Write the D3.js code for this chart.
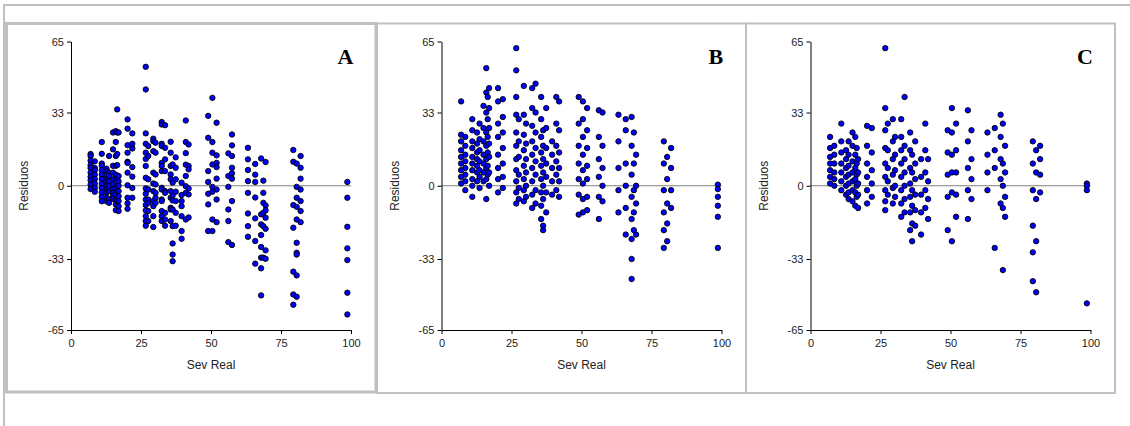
<!DOCTYPE html>
<html lang="es">
<head>
<meta charset="UTF-8">
<title>Residuos vs Sev Real</title>
<script src="https://cdn.jsdelivr.net/npm/d3@7"></script>
<style>
  body { margin: 0; background: #fff; }
  svg { display: block; }
</style>
</head>
<body>
<script>
// Datos: [Sev Real, Residuo]
var puntosA = [
  [7,14.3],[7,13.4],[7,11.3],[7,9.3],[7,8],[7,5.9],[7,4],[7,2.5],[7,0.5],[7,-1.5],
  [8.5,11],[8.5,8],[8.5,7],[8.5,5],[8.5,3],[8.5,1],[8.5,-1],[8.5,-2.7],
  [11,19.7],[11,14.4],[11,10],[11,9],[11,7],[11,5],[11,3],[11,1],[11,-1],[11,-3],[11,-5],[11,-7],
  [12.7,7.7],[12.7,6.5],[12.7,5],[12.7,2.9],[12.7,2],[12.7,0],[12.7,-2],[12.7,-3],[12.7,-5.4],[12.7,-7],
  [13.6,13.4],[13.6,5.9],[13.6,4.4],[13.6,2],[13.6,0],[13.6,-2.5],[13.6,-6],[13.6,-7.7],
  [15,24],[15,16.4],[15,9],[15,5.9],[15,2.9],[15,0.6],[15,-1.7],[15,-3.2],[15,-4.7],[15,-5.9],
  [16,24.6],[16,19.7],[16,13.4],[16,9],[16,5],[16,2.9],[16,-1],[16,-4],[16,-6.2],[16,-8.4],[16,-11],
  [16.5,34.4],[16.5,24],[16.5,14.3],[16.5,9.3],[16.5,3.6],[16.5,0],[16.5,-2.4],[16.5,-5.4],[16.5,-6.9],
  [17,24],[17,4.4],[17,2],[17,0],[17,-2.4],[17,-4.7],[17,-6.9],[17,-9.2],[17,-11.4],
  [20.2,29.9],[20.2,25.7],[20.2,18.3],[20.2,14.9],[20.2,10.8],[20.2,10.3],[20.2,5.9],[20.2,0.2],[20.2,-5.4],[20.2,-7.9],[20.2,-10.4],
  [21.9,23.6],[21.9,18.9],[21.9,16.8],[21.9,8.4],[21.9,4.1],[21.9,-1],[21.9,-5.4],
  [26.7,53.6],[26.7,43.4],[26.7,23.6],[26.7,18.9],[26.7,14.9],[26.7,12.1],[26.7,8.9],[26.7,3.6],[26.7,-1.2],[26.7,-3.6],[26.7,-6.2],[26.7,-8.7],[26.7,-11.1],[26.7,-13.7],[26.7,-15.9],[26.7,-18],
  [27.6,17.9],[27.6,13.4],[27.6,2.9],[27.6,-1.7],[27.6,-6.2],[27.6,-7.7],[27.6,-11.4],[27.6,-15.9],
  [29.4,21.2],[29.4,20.1],[29.4,15.6],[29.4,5.9],[29.4,1],[29.4,-2.4],[29.4,-6.9],[29.4,-9.2],[29.4,-13.7],[29.4,-18.6],
  [30.2,19.4],[30.2,14.9],[30.2,5.1],[30.2,0.6],[30.2,-3.2],[30.2,-5.4],[30.2,-7.7],
  [32.4,28.7],[32.4,27.6],[32.4,18.9],[32.4,17.9],[32.4,10.3],[32.4,8.9],[32.4,6.6],[32.4,-0.9],[32.4,-1.7],[32.4,-6.2],[32.4,-6.9],[32.4,-11.4],[32.4,-13.7],[32.4,-15.9],
  [33.6,27.3],[33.6,17.1],[33.6,11.9],[33.6,6.6],[33.6,-2.4],[33.6,-3.2],[33.6,-12.2],[33.6,-15.2],[33.6,-18],
  [35.6,19.8],[35.6,14.9],[35.6,8.9],[35.6,5.1],[35.6,2.9],[35.6,-2.4],[35.6,-5.4],[35.6,-9.9],[35.6,-10.7],[35.6,-15.9],
  [36.3,9.6],[36.3,1.4],[36.3,-4.4],[36.3,-6.6],[36.3,-10.7],[36.3,-18.2],[36.3,-26],[36.3,-31],[36.3,-34],
  [37.4,12.8],[37.4,8.1],[37.4,2.9],[37.4,-2.7],[37.4,-6.9],[37.4,-12.2],[37.4,-18],
  [39.5,1.4],[39.5,-4.2],[39.5,-6.9],[39.5,-9.2],[39.5,-13.7],[39.5,-20.4],[39.5,-23.9],
  [41,29.4],[41,19.7],[41,14.7],[41,9.5],[41,4.4],[41,-0.2],[41,-3.2],[41,-15.2],
  [42,18.6],[42,8.9],[42,7.4],[42,-1.2],[42,-3.9],[42,-14.3],
  [49,31.5],[49,21.6],[49,6.6],[49,1.7],[49,-3.6],[49,-8.4],[49,-20.4],
  [50.5,39.6],[50.5,19.7],[50.5,14.9],[50.5,9.6],[50.5,-0.5],[50.5,-2.7],[50.5,-15.2],[50.5,-20.4],
  [52,28.4],[52,13.7],[52,10.3],[52,8.4],[52,3.2],[52,-1.7],[52,-6.2],[52,-16.4],
  [56.2,14.6],[56.2,4.4],[56.2,-0.5],[56.2,-10.7],[56.2,-15.9],[56.2,-25.4],
  [57.5,23.1],[57.5,18.2],[57.5,13.4],[57.5,8.1],[57.5,5.6],[57.5,3.2],[57.5,-6.9],[57.5,-26.7],
  [63.2,17.1],[63.2,11.9],[63.2,7.1],[63.2,2.1],[63.2,-3.2],[63.2,-12.5],[63.2,-18.2],[63.2,-23],
  [65.8,9.8],[65.8,5],[65.8,1.7],[65.8,-5.3],[65.8,-14.7],[65.8,-24.9],[65.8,-35.1],
  [67.9,12.3],[67.9,-12.9],[67.9,-17.4],[67.9,-22.2],[67.9,-27.6],[67.9,-32.4],[67.9,-37.2],[67.9,-49.4],
  [68.7,2.3],[68.7,-3.2],[68.7,-7.7],[68.7,-12.2],[68.7,-18.2],[68.7,-32.4],
  [69.5,10.7],[69.5,-8.9],[69.5,-11.1],[69.5,-14.4],[69.5,-19.4],[69.5,-29.1],[69.5,-32.9],
  [79.4,16.1],[79.4,10.8],[79.4,-8.7],[79.4,-18.9],[79.4,-38.7],[79.4,-49],[79.4,-53.6],
  [80.6,10],[80.6,-0.5],[80.6,-5.4],[80.6,-9.5],[80.6,-15.2],[80.6,-25.7],[80.6,-30.2],[80.6,-31],[80.6,-40.4],[80.6,-50],
  [82,13.4],[82,8.1],[82,3.2],[82,-1.7],[82,-6.9],[82,-11.4],[82,-16.4],
  [98.7,1.7],[98.7,-5.4],[98.7,-18.5],[98.7,-28.2],[98.7,-33.5],[98.7,-48.2],[98.7,-58]
];

var puntosB = [
  [7,38],[7,23],[7,20],[7,16],[7,13],[7,10],[7,7],[7,4],[7,1],
  [8.5,22],[8.5,18],[8.5,14],[8.5,11],[8.5,8],[8.5,5],[8.5,2],[8.5,-2],
  [11,30],[11,25],[11,20],[11,17],[11,13],[11,10],[11,7],[11,3],[11,0],[11,-5],
  [12.7,24],[12.7,19],[12.7,15],[12.7,12],[12.7,9],[12.7,6],[12.7,2],
  [13.6,28],[13.6,21],[13.6,16],[13.6,11],[13.6,7],[13.6,4],[13.6,-1],
  [15,36],[15,26],[15,20],[15,14],[15,10],[15,6],[15,2],
  [16,53],[16,42],[16,33],[16,24],[16,18],[16,12],[16,8],[16,3],[16,-6],
  [16.5,40],[16.5,30],[16.5,22],[16.5,15],[16.5,9],[16.5,5],
  [17,44],[17,35],[17,26],[17,19],[17,13],[17,6],[17,0],
  [20.2,44],[20.2,38],[20.2,28],[20.2,22],[20.2,14],[20.2,8],[20.2,3],[20.2,-3],
  [21.9,39],[21.9,31],[21.9,24],[21.9,17],[21.9,10],[21.9,4],[21.9,-1],
  [26.7,62],[26.7,52],[26.7,40],[26.7,32],[26.7,24],[26.7,18],[26.7,12],[26.7,7],[26.7,2],[26.7,-3],[26.7,-8],
  [27.6,30],[27.6,20],[27.6,13],[27.6,5],[27.6,-1],[27.6,-6],
  [29.4,45],[29.4,32],[29.4,23],[29.4,16],[29.4,9],[29.4,3],[29.4,-2],[29.4,-7],
  [30.2,28],[30.2,19],[30.2,12],[30.2,6],[30.2,0],[30.2,-5],
  [32.4,44],[32.4,35],[32.4,27],[32.4,20],[32.4,14],[32.4,8],[32.4,2],[32.4,-4],[32.4,-10],
  [33.6,46],[33.6,33],[33.6,24],[33.6,17],[33.6,11],[33.6,5],[33.6,-2],[33.6,-8],
  [35.6,40],[35.6,30],[35.6,22],[35.6,15],[35.6,9],[35.6,3],[35.6,-3],[35.6,-9],[35.6,-15],
  [36.3,25],[36.3,18],[36.3,12],[36.3,6],[36.3,0],[36.3,-6],[36.3,-18],[36.3,-20],
  [37.4,35],[37.4,26],[37.4,17],[37.4,10],[37.4,4],[37.4,-3],[37.4,-12],
  [39.5,20],[39.5,14],[39.5,8],[39.5,2],[39.5,-4],
  [41,40],[41,28],[41,18],[41,11],[41,5],[41,-2],
  [42,38],[42,25],[42,15],[42,8],[42,2],[42,-5],
  [49,40],[49,28],[49,18],[49,10],[49,3],[49,-4],[49,-13],
  [50.5,38],[50.5,30],[50.5,22],[50.5,14],[50.5,7],[50.5,1],[50.5,-6],[50.5,-12],
  [52,35],[52,25],[52,17],[52,9],[52,3],[52,-5],[52,-11],
  [56.2,34],[56.2,22],[56.2,12],[56.2,4],[56.2,-5],[56.2,-15],
  [57.5,33],[57.5,18],[57.5,8],[57.5,0],[57.5,-7],
  [63.2,32],[63.2,20],[63.2,8],[63.2,-2],[63.2,-12],
  [65.8,30],[65.8,25],[65.8,10],[65.8,0],[65.8,-10],[65.8,-22],
  [67.9,31],[67.9,18],[67.9,5],[67.9,-5],[67.9,-15],[67.9,-24],[67.9,-33],[67.9,-42],
  [68.7,24],[68.7,10],[68.7,-2],[68.7,-12],[68.7,-20],
  [69.5,14],[69.5,0],[69.5,-8],[69.5,-22],
  [79.4,20],[79.4,10],[79.4,-2],[79.4,-12],[79.4,-20],[79.4,-28],
  [80.6,13],[80.6,3],[80.6,-8],[80.6,-17],[80.6,-25],
  [82,17],[82,8],[82,-2],[82,-10],
  [98.7,0.5],[98.7,-1.5],[98.7,-5],[98.7,-9],[98.7,-14],[98.7,-28]
];

var puntosC = [
  [7,22],[7,17],[7,13],[7,10],[7,7],[7,4],[7,1],
  [8.5,18],[8.5,14],[8.5,10],[8.5,6],[8.5,3],[8.5,0],
  [11,28],[11,20],[11,15],[11,10],[11,6],[11,2],[11,-2],
  [12.7,16],[12.7,12],[12.7,8],[12.7,4],[12.7,0],[12.7,-4],
  [13.6,20],[13.6,14],[13.6,9],[13.6,5],[13.6,1],[13.6,-3],[13.6,-6],
  [15,24],[15,18],[15,11],[15,6],[15,2],[15,-2],[15,-7],
  [16,22],[16,14],[16,8],[16,3],[16,-3],[16,-9],
  [16.5,17],[16.5,10],[16.5,5],[16.5,0],[16.5,-5],
  [17,12],[17,6],[17,1],[17,-4],[17,-10],
  [20.2,27],[20.2,18],[20.2,10],[20.2,4],[20.2,-2],[20.2,-8],
  [21.9,26],[21.9,15],[21.9,7],[21.9,1],[21.9,-5],
  [26.7,62],[26.7,35],[26.7,25],[26.7,17],[26.7,10],[26.7,4],[26.7,-2],[26.7,-7],[26.7,-11],
  [27.6,28],[27.6,16],[27.6,8],[27.6,2],[27.6,-4],
  [29.4,30],[29.4,20],[29.4,12],[29.4,5],[29.4,-1],[29.4,-8],
  [30.2,22],[30.2,14],[30.2,7],[30.2,0],[30.2,-5],
  [32.4,30],[32.4,22],[32.4,16],[32.4,10],[32.4,4],[32.4,-2],[32.4,-8],[32.4,-14],
  [33.6,40],[33.6,18],[33.6,12],[33.6,6],[33.6,0],[33.6,-6],[33.6,-12],
  [35.6,24],[35.6,16],[35.6,8],[35.6,1],[35.6,-5],[35.6,-12],[35.6,-20],
  [36.3,14],[36.3,6],[36.3,-2],[36.3,-9],[36.3,-17],[36.3,-25],
  [37.4,20],[37.4,10],[37.4,3],[37.4,-4],[37.4,-11],[37.4,-18],
  [39.5,12],[39.5,4],[39.5,-4],[39.5,-12],[39.5,-22],
  [41,28],[41,16],[41,6],[41,-2],[41,-10],
  [42,12],[42,2],[42,-6],[42,-15],
  [49,25],[49,15],[49,5],[49,-5],[49,-20],
  [50.5,35],[50.5,24],[50.5,14],[50.5,6],[50.5,-3],[50.5,-25],
  [52,28],[52,16],[52,6],[52,-4],[52,-14],
  [56.2,34],[56.2,20],[56.2,8],[56.2,-2],[56.2,-15],
  [57.5,25],[57.5,12],[57.5,3],[57.5,-6],
  [63.2,24],[63.2,14],[63.2,6],[63.2,-2],
  [65.8,26],[65.8,16],[65.8,8],[65.8,-28],
  [67.9,32],[67.9,22],[67.9,12],[67.9,3],[67.9,-8],
  [68.7,28],[68.7,10],[68.7,0],[68.7,-10],[68.7,-38],
  [69.5,18],[69.5,6],[69.5,-5],[69.5,-14],
  [79.4,20],[79.4,10],[79.4,-2],[79.4,-18],[79.4,-30],[79.4,-43],
  [80.6,16],[80.6,6],[80.6,-6],[80.6,-25],[80.6,-48],
  [82,18],[82,12],[82,5],[82,-3],
  [98.7,1],[98.7,0],[98.7,-2],[98.7,-53]
];

var paneles = [
  { letra: "A", puntos: puntosA },
  { letra: "B", puntos: puntosB },
  { letra: "C", puntos: puntosC }
];
var ticksX = [0, 25, 50, 75, 100];
var ticksY = [65, 33, 0, -33, -65];

var ancho = 1130, alto = 426;
var gris = "#c0c0c0";

var svg = d3.select("body").append("svg")
  .attr("width", ancho)
  .attr("height", alto);

// marco exterior
svg.append("line").attr("x1", 3).attr("x2", ancho).attr("y1", 5).attr("y2", 5)
  .attr("stroke", gris).attr("stroke-width", 2);
svg.append("line").attr("x1", 4).attr("x2", 4).attr("y1", 4).attr("y2", alto)
  .attr("stroke", gris).attr("stroke-width", 2);

// cajas de cada panel: [x, y, w, h, grosor]
var cajas = [
  [6.5, 23.5, 369.5, 368.5, 3],
  [377, 23.5, 369, 369.5, 2],
  [746, 23.5, 369, 369.5, 2]
];

// etiquetas con guion normal en los negativos
var formato = function(d) { return String(d); };

paneles.forEach(function(p, i) {
  var c = cajas[i];
  svg.append("rect")
    .attr("x", c[0]).attr("y", c[1]).attr("width", c[2]).attr("height", c[3])
    .attr("fill", "none").attr("stroke", gris).attr("stroke-width", c[4]);

  var x0 = c[0] + 64.5;
  var g = svg.append("g").attr("transform", "translate(" + x0 + ",0)");

  var escalaX = d3.scaleLinear().domain([0, 100]).range([0, 280]);
  var escalaY = d3.scaleLinear().domain([-65, 65]).range([330, 41.5]);

  // línea de cero
  g.append("line")
    .attr("x1", escalaX(0)).attr("x2", escalaX(100))
    .attr("y1", escalaY(0)).attr("y2", escalaY(0))
    .attr("stroke", "#808080").attr("stroke-width", 1);

  var ejeX = d3.axisBottom(escalaX).tickValues(ticksX).tickFormat(formato).tickSize(4).tickSizeOuter(0);
  var ejeY = d3.axisLeft(escalaY).tickValues(ticksY).tickFormat(formato).tickSize(4).tickSizeOuter(0);

  var gx = g.append("g").attr("transform", "translate(0," + escalaY(-65) + ")").call(ejeX);
  var gy = g.append("g").call(ejeY);
  [gx, gy].forEach(function(e) {
    e.selectAll("text").attr("font-family", "Liberation Sans, Arial, sans-serif")
      .attr("font-size", 11).attr("fill", "#222");
    e.select(".domain").attr("stroke", "#000");
    e.selectAll(".tick line").attr("stroke", "#000");
  });
  gx.selectAll("text").attr("dy", "0.9em");

  g.append("text")
    .attr("x", escalaX(50)).attr("y", 369)
    .attr("text-anchor", "middle")
    .attr("font-family", "Liberation Sans, Arial, sans-serif")
    .attr("font-size", 12).attr("fill", "#222")
    .text("Sev Real");

  g.append("text")
    .attr("transform", "translate(-43," + escalaY(0) + ") rotate(-90)")
    .attr("text-anchor", "middle")
    .attr("font-family", "Liberation Sans, Arial, sans-serif")
    .attr("font-size", 12).attr("fill", "#222")
    .text("Residuos");

  g.append("text")
    .attr("x", escalaX(98)).attr("y", 64)
    .attr("text-anchor", "middle")
    .attr("font-family", "Liberation Serif, Times New Roman, serif")
    .attr("font-weight", "bold")
    .attr("font-size", 22).attr("fill", "#000")
    .text(p.letra);

  g.selectAll("circle")
    .data(p.puntos)
    .enter()
    .append("circle")
    .attr("cx", function(d) { return escalaX(d[0]); })
    .attr("cy", function(d) { return escalaY(d[1]); })
    .attr("r", 2.7)
    .attr("fill", "#0000ff")
    .attr("stroke", "#000")
    .attr("stroke-width", 0.9);
});
</script>
</body>
</html>
